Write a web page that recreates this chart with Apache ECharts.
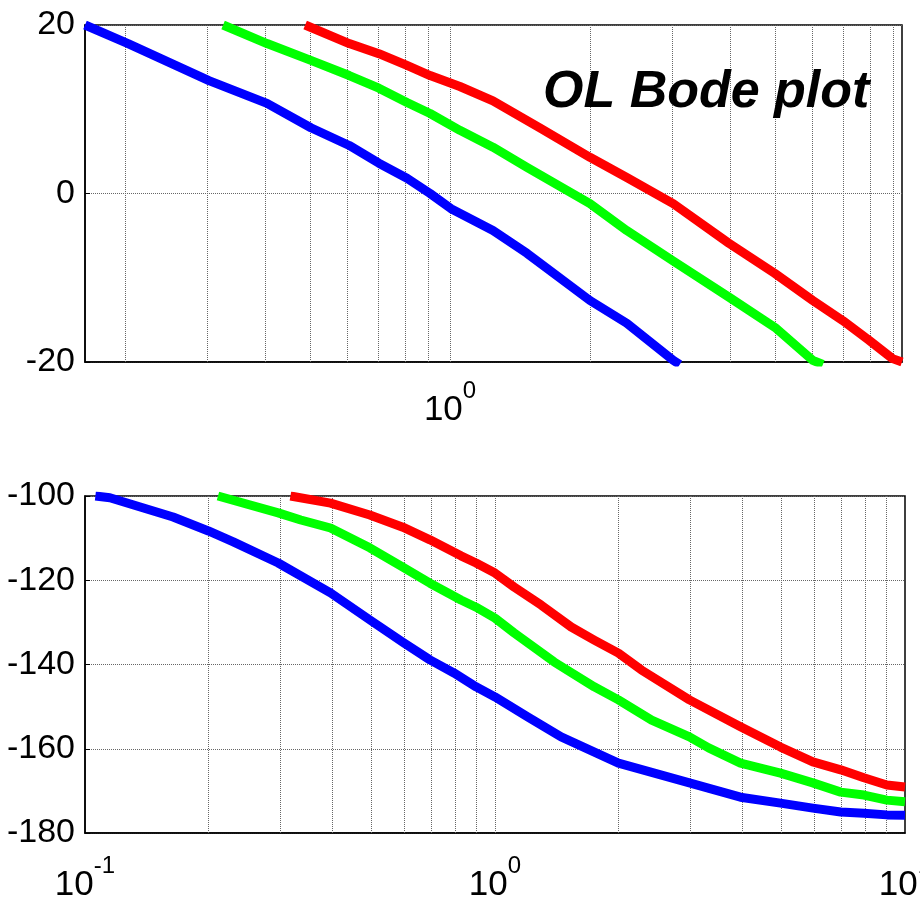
<!DOCTYPE html>
<html>
<head>
<meta charset="utf-8">
<script src="https://cdn.jsdelivr.net/npm/echarts@6/dist/echarts.min.js"></script>
<style>html,body{margin:0;padding:0;background:#fff}#c{width:920px;height:899px}</style>
</head>
<body>
<div id="c"></div>
<script>
// ---- data (frequency, value) ----
const magFreqBlue = [0.164,0.203,0.303,0.404,0.502,0.607,0.703,0.808,0.906,1.005,1.237,1.464,2.0,2.40,3.02,3.12];
const magBlue     = [20,17.8,13.4,10.7,7.8,5.7,3.6,1.8,0,-1.8,-4.4,-7.1,-12.7,-15.4,-19.8,-20.3];
const magFreqGreen = [0.325,0.404,0.502,0.607,0.703,0.808,0.906,1.05,1.237,1.464,2.0,2.40,3.02,3.98,5.0,6.03,6.34];
const magGreen     = [20,17.8,15.8,14.0,12.5,10.8,9.5,7.5,5.5,3.1,-1.2,-4.4,-8.0,-12.3,-15.9,-19.8,-20.3];
const magFreqRed = [0.488,0.607,0.703,0.808,0.906,1.05,1.237,1.56,2.0,2.40,3.02,3.98,5.0,6.03,7.0,7.96,8.95,9.38];
const magRed     = [20,17.8,16.6,15.2,14.0,12.7,11.0,7.8,4.3,1.9,-1.2,-5.9,-9.5,-12.7,-15.1,-17.4,-19.6,-20];

const phFreqBlue = [0.106,0.115,0.164,0.2,0.230,0.296,0.397,0.495,0.596,0.694,0.794,0.899,1.0,1.204,1.45,2.0,2.98,3.97,4.97,5.96,6.97,7.94,9.03,10];
const phBlue     = [-100,-100.4,-105.0,-108.3,-110.9,-115.9,-123.0,-129.4,-134.7,-138.9,-142.0,-145.3,-147.7,-152.5,-157.2,-163.4,-168.1,-171.5,-172.9,-174.1,-175.0,-175.3,-175.7,-175.8];
const phFreqGreen = [0.211,0.296,0.336,0.397,0.495,0.596,0.694,0.826,0.899,1.0,1.113,1.394,1.746,2.0,2.41,2.98,3.32,3.97,4.97,5.96,6.97,7.94,9.03,10];
const phGreen     = [-100,-104.0,-105.7,-107.6,-112.3,-116.9,-120.7,-124.7,-126.4,-129.0,-132.5,-139.4,-145.3,-148.4,-153.2,-157.2,-159.8,-163.4,-165.8,-168.1,-170.3,-171.0,-172.2,-172.6];
const phFreqRed = [0.317,0.397,0.495,0.596,0.694,0.826,0.899,1.0,1.113,1.296,1.534,1.746,2.0,2.275,2.98,3.97,4.97,5.96,6.97,7.94,9.03,10];
const phRed     = [-100,-101.7,-104.5,-107.4,-110.4,-114.2,-115.9,-118.3,-121.6,-125.9,-131.1,-134.2,-137.3,-141.3,-148.4,-154.8,-159.6,-163.1,-165.0,-166.9,-168.6,-169.1];

// axis ranges / ticks
const magFreqRange = [0.164, 9.38];
const phFreqRange = [0.1, 10];
const magTicks = [-20, 0, 20];
const phTicks = [-180, -160, -140, -120, -100];
const freqGridTicks = [0.2,0.3,0.4,0.5,0.6,0.7,0.8,0.9,1,2,3,4,5,6,7,8,9];
const titleText = 'OL Bode plot';

const FONT = "'Liberation Sans Narrow','Arial Narrow','Liberation Sans',Arial,sans-serif";
const zip = (a, b) => a.map((v, i) => [v, b[i]]);

function pow10Label(v) {
  const n = Math.round(Math.log10(v));
  if (Math.abs(v - Math.pow(10, n)) > 1e-6 * Math.pow(10, n)) return '';
  return '{b|10}{s|' + n + '}';
}
const richX = {
  b: { fontSize: 35, fontFamily: FONT, color: '#000', lineHeight: 62, verticalAlign: 'middle' },
  s: { fontSize: 24, fontFamily: FONT, color: '#000', lineHeight: 24, verticalAlign: 'top' }
};
const gridLineStyle = { color: '#666', width: 1, type: 'dotted' };

function xAxisDef(idx, range, margin) {
  return {
    type: 'log', gridIndex: idx, min: range[0], max: range[1], logBase: 10,
    axisLine: { show: true, onZero: false, lineStyle: { color: '#000', width: 1.5 } },
    axisTick: { show: false },
    splitLine: { show: false },
    minorTick: { show: false },
    axisLabel: { margin: margin, formatter: pow10Label, rich: richX, showMinLabel: true, showMaxLabel: true, hideOverlap: false }
  };
}
function yAxisDef(idx, ticks) {
  return {
    type: 'value', gridIndex: idx, min: ticks[0], max: ticks[ticks.length - 1],
    interval: ticks[1] - ticks[0],
    axisLine: { show: true, onZero: false, lineStyle: { color: '#000', width: 1.5 } },
    axisTick: { show: true, inside: true, length: 5, lineStyle: { color: '#000' } },
    splitLine: { show: true, lineStyle: gridLineStyle },
    axisLabel: { fontSize: 34, fontFamily: FONT, color: '#000', margin: 10 }
  };
}
function curve(name, xi, data, color) {
  return {
    name: name, type: 'line', xAxisIndex: xi, yAxisIndex: xi, data: data,
    showSymbol: false, symbol: 'none', smooth: false, z: 5,
    lineStyle: { color: color, width: 9, cap: 'butt', join: 'round' },
    animation: false, silent: true
  };
}
function gridSeries(xi) {
  return {
    type: 'line', xAxisIndex: xi, yAxisIndex: xi, data: [], z: 1, silent: true, animation: false,
    markLine: {
      silent: true, symbol: ['none', 'none'], animation: false,
      label: { show: false },
      lineStyle: gridLineStyle,
      data: freqGridTicks.map(v => ({ xAxis: v }))
    }
  };
}

const chart = echarts.init(document.getElementById('c'), null, { renderer: 'canvas' });
chart.setOption({
  animation: false,
  backgroundColor: '#fff',
  title: {
    text: titleText, left: 538, top: 62,
    textStyle: { fontSize: 52, fontWeight: 'bold', fontStyle: 'italic', fontFamily: "'Liberation Sans',Arial,sans-serif", color: '#000' }
  },
  grid: [
    { left: 85, top: 25, width: 817, height: 337, show: true, borderColor: '#000', borderWidth: 1.5, backgroundColor: 'transparent', containLabel: false, outerBoundsMode: 'none' },
    { left: 85, top: 496, width: 820, height: 337, show: true, borderColor: '#000', borderWidth: 1.5, backgroundColor: 'transparent', containLabel: false, outerBoundsMode: 'none' }
  ],
  xAxis: [xAxisDef(0, magFreqRange, 17), xAxisDef(1, phFreqRange, 21)],
  yAxis: [yAxisDef(0, magTicks), yAxisDef(1, phTicks)],
  series: [
    gridSeries(0), gridSeries(1),
    curve('blue', 0, zip(magFreqBlue, magBlue), '#0000ff'),
    curve('green', 0, zip(magFreqGreen, magGreen), '#00ff00'),
    curve('red', 0, zip(magFreqRed, magRed), '#ff0000'),
    curve('blue', 1, zip(phFreqBlue, phBlue), '#0000ff'),
    curve('green', 1, zip(phFreqGreen, phGreen), '#00ff00'),
    curve('red', 1, zip(phFreqRed, phRed), '#ff0000')
  ]
});
</script>
</body>
</html>
